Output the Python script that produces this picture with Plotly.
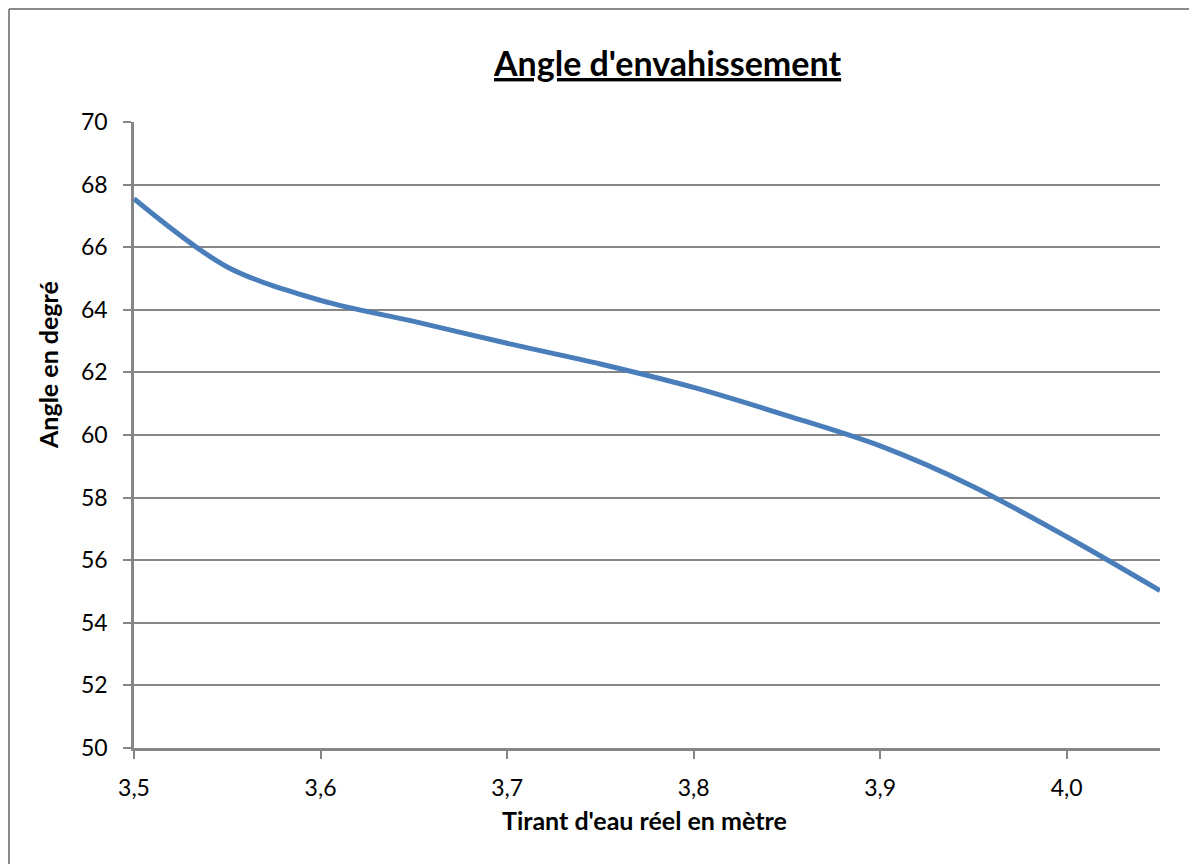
import plotly.graph_objects as go

tirant = [3.50, 3.55, 3.60, 3.65, 3.70, 3.75, 3.80, 3.85, 3.90, 3.95, 4.00, 4.05]
angle = [67.55, 65.37, 64.30, 63.63, 62.93, 62.27, 61.52, 60.62, 59.65, 58.35, 56.75, 55.03]
x_ticks = [3.5, 3.6, 3.7, 3.8, 3.9, 4.0]
x_labels = ["3,5", "3,6", "3,7", "3,8", "3,9", "4,0"]
y_ticks = list(range(50, 71, 2))

FONT = "Lato"
GRID = "#868686"

fig = go.Figure()
fig.add_trace(go.Scatter(
    x=tirant, y=angle, mode="lines",
    line=dict(color="#4A7EBB", width=5, shape="spline", smoothing=0.9),
    showlegend=False, hoverinfo="x+y",
))

OFF = 8  # page body margin
W, H = 1197 - OFF, 864 - OFF
L, R, T, B = 134 - OFF, 1160 - OFF, 122 - OFF, 748 - OFF
pw, ph = R - L, B - T

def px(xp):
    return (xp - OFF - L) / pw

def py(yp):
    return (B - (yp - OFF)) / ph

fig.update_layout(
    width=W, height=H,
    margin=dict(l=L, r=W - R, t=T, b=H - B, pad=0),
    paper_bgcolor="white", plot_bgcolor="white",
    font=dict(family=FONT, size=23, color="#000000"),
    xaxis=dict(
        range=[3.5, 4.05], tickvals=x_ticks, ticktext=x_labels,
        showgrid=False, zeroline=False,
        showline=True, linecolor=GRID, linewidth=2.5,
        ticks="outside", ticklen=8, tickcolor=GRID, tickwidth=2,
        tickfont=dict(family=FONT, size=23), ticklabelstandoff=10,
    ),
    yaxis=dict(
        range=[50, 70], tickvals=y_ticks,
        showgrid=True, gridcolor=GRID, gridwidth=1.5, zeroline=False,
        showline=True, linecolor=GRID, linewidth=2.5,
        ticks="outside", ticklen=8, tickcolor=GRID, tickwidth=2,
        tickfont=dict(family=FONT, size=23), ticklabelstandoff=11,
    ),
    annotations=[
        dict(text="<b><u>Angle d'envahissement</u></b>", x=px(667), y=py(62),
             xref="paper", yref="paper", showarrow=False,
             font=dict(family=FONT, size=34, color="#000000"),
             xanchor="center", yanchor="middle"),
        dict(text="<b>Tirant d'eau réel en mètre</b>", x=px(644), y=py(820),
             xref="paper", yref="paper", showarrow=False,
             font=dict(family=FONT, size=25, color="#000000"),
             xanchor="center", yanchor="middle"),
        dict(text="<b>Angle en degré</b>", x=px(48), y=py(365),
             xref="paper", yref="paper", showarrow=False, textangle=-90,
             font=dict(family=FONT, size=25, color="#000000"),
             xanchor="center", yanchor="middle"),
    ],
    shapes=[
        dict(type="line", xref="paper", yref="paper",
             x0=px(9), x1=px(1210), y0=py(9), y1=py(9),
             line=dict(color="#8a8a8a", width=2)),
        dict(type="line", xref="paper", yref="paper",
             x0=px(9), x1=px(9), y0=py(9), y1=py(880),
             line=dict(color="#8a8a8a", width=2)),
    ],
)

fig.write_html("out.html")
